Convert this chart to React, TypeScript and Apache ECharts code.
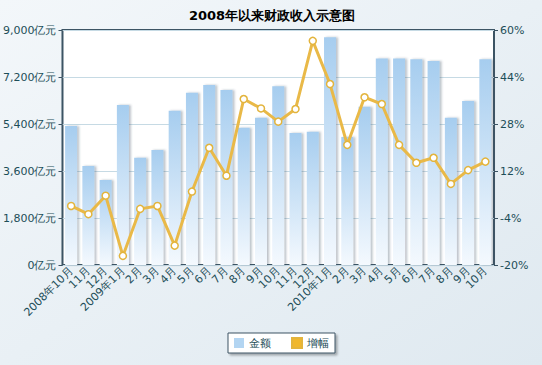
import React, { useEffect, useRef } from "react";
import * as echarts from "echarts";

const categories = [
  "2008年10月", "11月", "12月", "2009年1月", "2月", "3月", "4月", "5月", "6月", "7月", "8月", "9月", "10月",
  "11月", "12月", "2010年1月", "2月", "3月", "4月", "5月", "6月", "7月", "8月", "9月", "10月",
];
const amounts = [
  5320, 3790, 3255, 6130, 4110, 4400, 5910, 6600, 6890, 6700, 5260, 5640, 6850,
  5060, 5100, 8720, 4900, 6060, 7910, 7910, 7880, 7810, 5640, 6280, 7880,
];
const growth = [
  0.1, -2.7, 3.6, -16.9, -0.9, 0.1, -13.4, 5.0, 19.9, 10.4, 36.5, 33.3, 28.8,
  33.1, 56.3, 41.6, 20.9, 37.1, 34.8, 20.9, 14.8, 16.5, 7.6, 12.3, 15.2,
];
const leftTicks = [0, 1800, 3600, 5400, 7200, 9000];
const rightTicks = [-20, -4, 12, 28, 44, 60];

const labelColor = "#1d4e58";
const font = "DejaVu Sans";

export default function App() {
  const ref = useRef<HTMLDivElement>(null);
  useEffect(() => {
    const chart = echarts.init(ref.current!, null, { renderer: "svg" });
    chart.setOption({
      animation: false,
      backgroundColor: new echarts.graphic.LinearGradient(0, 0, 1, 1, [
        { offset: 0, color: "#f3f7fa" },
        { offset: 1, color: "#dfe9f0" },
      ]),
      title: {
        text: "2008年以来财政收入示意图",
        left: 267,
        textAlign: "center",
        top: 4,
        textStyle: { fontSize: 13, fontWeight: "bold", color: "#000", fontFamily: font },
      },
      legend: {
        bottom: 12,
        left: 228,
        itemWidth: 10,
        itemHeight: 10,
        itemGap: 20,
        padding: [4, 6, 4, 6],
        backgroundColor: "#ffffff",
        borderColor: "#3c5464",
        borderWidth: 1,
        shadowColor: "rgba(0,0,0,0.3)",
        shadowBlur: 2,
        shadowOffsetX: 2,
        shadowOffsetY: 2,
        textStyle: { fontSize: 11, color: labelColor, fontFamily: font },
        data: [
          { name: "金额", icon: "rect", itemStyle: { color: "#b3d5f2" } },
          { name: "增幅", icon: "rect", itemStyle: { color: "#f0b72c" } },
        ],
      },
      grid: {
        left: 62,
        right: 48,
        top: 30,
        bottom: 100,
        show: true,
        backgroundColor: "#ffffff",
        borderColor: "#3c5464",
        borderWidth: 2,
      },
      xAxis: {
        type: "category",
        data: categories,
        axisLine: { show: false },
        axisTick: { show: false },
        axisLabel: {
          rotate: 45,
          interval: 0,
          fontSize: 11,
          color: labelColor,
          fontFamily: font,
          margin: 4,
        },
      },
      yAxis: [
        {
          type: "value",
          min: 0,
          max: 9000,
          interval: 1800,
          axisLine: { show: false },
          axisTick: { show: true, length: 4, lineStyle: { color: "#3c5464" } },
          splitLine: { lineStyle: { color: "#c6dae4", width: 1 } },
          axisLabel: {
            fontSize: 11,
            color: labelColor,
            fontFamily: font,
            margin: 6,
            formatter: (v: number) => (leftTicks.includes(v) ? v.toLocaleString("en-US") + "亿元" : ""),
          },
        },
        {
          type: "value",
          min: -20,
          max: 60,
          interval: 16,
          axisLine: { show: false },
          axisTick: { show: true, length: 4, lineStyle: { color: "#3c5464" } },
          splitLine: { show: false },
          axisLabel: {
            fontSize: 11,
            color: labelColor,
            fontFamily: font,
            margin: 6,
            formatter: (v: number) => (rightTicks.includes(v) ? v + "%" : ""),
          },
        },
      ],
      series: [
        {
          name: "金额",
          type: "bar",
          data: amounts,
          barWidth: 12,
          itemStyle: {
            color: new echarts.graphic.LinearGradient(0, 0, 0, 1, [
              { offset: 0, color: "#a6cdef" },
              { offset: 1, color: "#f4f9fe" },
            ]),
            shadowColor: "rgba(60,80,100,0.35)",
            shadowBlur: 2,
            shadowOffsetX: 2,
          },
        },
        {
          name: "增幅",
          type: "line",
          yAxisIndex: 1,
          data: growth,
          symbol: "circle",
          symbolSize: 7,
          lineStyle: { color: "#e9b948", width: 3 },
          itemStyle: { color: "#ffffff", borderColor: "#e3b43c", borderWidth: 1.5 },
        },
      ],
    });
    return () => chart.dispose();
  }, []);
  return <div ref={ref} style={{ position: "fixed", left: 0, top: 0, width: 542, height: 365 }} />;
}
